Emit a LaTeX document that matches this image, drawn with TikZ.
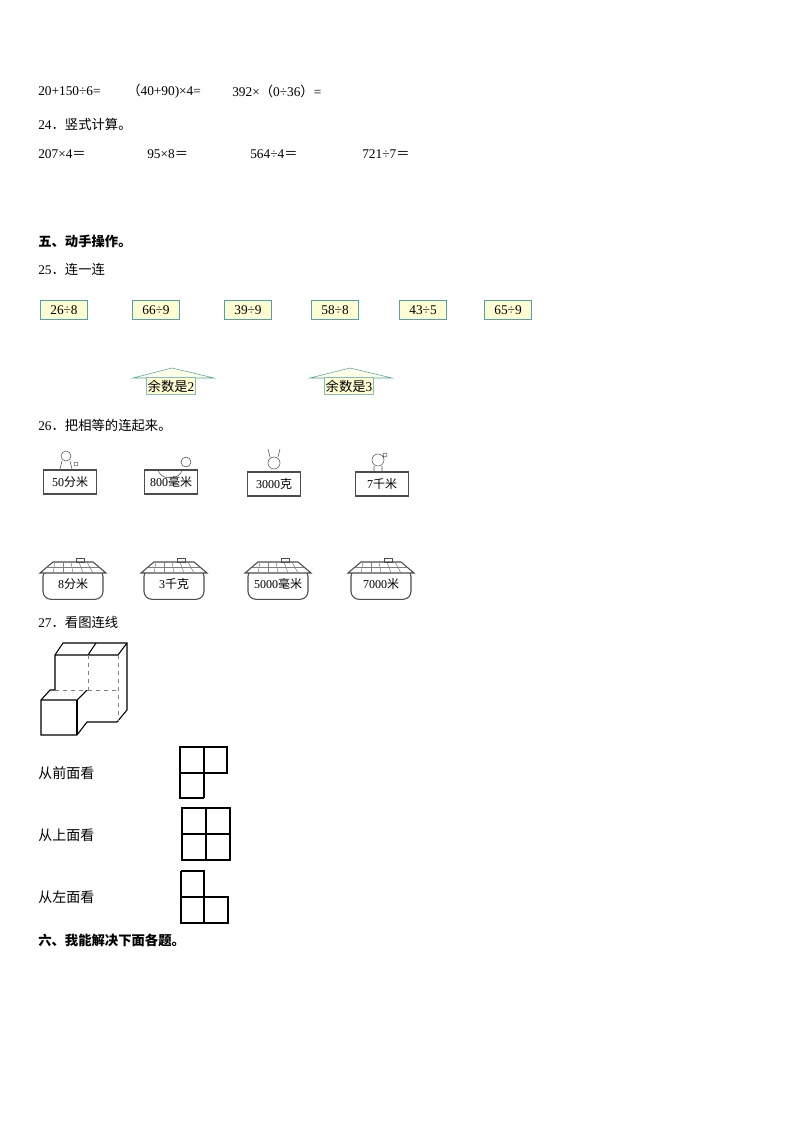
\documentclass[tikz,border=0pt]{standalone}
\usepackage{fontspec}
\setmainfont{Liberation Serif}
\newfontfamily\cjk{Noto Sans CJK SC}
\begin{document}
\begin{tikzpicture}[x=0.75pt,y=-0.75pt,
 txt/.style={anchor=west,inner sep=0,font=\fontsize{10}{12}\selectfont},
 hd/.style={anchor=west,inner sep=0,font=\fontsize{10}{12}\selectfont\cjk\bfseries},
 qbox/.style={draw=teal!70,fill=yellow!18,minimum width=35pt,minimum height=14pt,inner sep=1,font=\fontsize{10}{12}\selectfont},
 rbox/.style={draw=teal!50,fill=yellow!18,minimum width=37pt,minimum height=13pt,inner sep=1,font=\fontsize{10}{12}\selectfont},
 wbox/.style={draw=black!70,thick,minimum width=40pt,minimum height=18pt,inner sep=1,font=\fontsize{9}{11}\selectfont},
 pot/.style={draw=black!70,thick,rounded corners=6pt,minimum width=45pt,minimum height=23pt,inner sep=1,font=\fontsize{9}{11}\selectfont},
 fig/.style={line width=1.4pt}]
\useasboundingbox (0,0) rectangle (794,1123);
\node[txt] (l1a) at (38,91) {20+150÷6=};
\node[txt] (l1b) at (127,91) {{\cjk （}40+90)×4=};
\node[txt] (l1c) at (232,91) {392×{\cjk （}0÷36{\cjk ）}=};
\node[txt] (q24) at (38,124) {24{\cjk ．竖式计算。}};
\node[txt] (c1) at (38,154) {207×4{\cjk ＝}};
\node[txt] (c2) at (147,154) {95×8{\cjk ＝}};
\node[txt] (c3) at (250,154) {564÷4{\cjk ＝}};
\node[txt] (c4) at (362,154) {721÷7{\cjk ＝}};
\node[hd] (s5) at (38,241) {五、动手操作。};
\node[txt] (q25) at (38,269) {25{\cjk ．连一连}};
\foreach \n/\x/\t in {a/64/26÷8,b/156/66÷9,c/248/39÷9,d/335/58÷8,e/423/43÷5,f/508/65÷9}
  \node[qbox] (b\n) at (\x,310) {\t};
\draw[teal!70,fill=yellow!10] (133,378)--(172,368)--(214,378)--cycle;
\node[rbox] (r2) at (171,386) {{\cjk 余数是}2};
\draw[teal!70,fill=yellow!10] (310,378)--(350,368)--(392,378)--cycle;
\node[rbox] (r3) at (349,386) {{\cjk 余数是}3};
\node[txt] (q26) at (38,425) {26{\cjk ．把相等的连起来。}};
\node[wbox] (w1) at (70,482) {50{\cjk 分米}};
\node[wbox] (w2) at (171,482) {800{\cjk 毫米}};
\node[wbox] (w3) at (274,484) {3000{\cjk 克}};
\node[wbox] (w4) at (382,484) {7{\cjk 千米}};
\draw[black!70] (66,456) circle (5) (70,461)--(72,469) (62,461)--(60,469) (76,464) circle (2);
\draw[black!70] (158,469) arc (180:0:12 and 9) (186,462) circle (5);
\draw[black!70] (274,463) circle (6) (270,457)--(268,449) (278,457)--(280,449);
\draw[black!70] (378,460) circle (6) (385,455) circle (2) (374,466)--(374,471) (382,466)--(382,471);
\foreach \n/\x/\t in {1/73/8{\cjk 分米},2/174/3{\cjk 千克},3/278/5000{\cjk 毫米},4/381/7000{\cjk 米}}{
  \node[pot] (p\n) at (\x,584) {\t};
  \draw[black!70,thick,fill=white] (\x-33,573)--(\x-20,562)--(\x+20,562)--(\x+33,573)--cycle;
  \foreach \k in {-2,...,2} \draw[black!50] (\x+\k*8-2,562)--(\x+\k*10,573);
  \draw[black!50] (\x-26,567)--(\x+26,567);
  \draw[black!70] (\x+3,562) rectangle (\x+11,558);
}
\node[txt] (q27) at (38,622) {27{\cjk ．看图连线}};
\draw[thick] (55,690)--(55,655)--(63,643)--(127,643)--(127,710)--(117,722)--(87,722)--(77,735)--(41,735)--(41,700)--(50,690)--(55,690);
\draw[thick] (55,655)--(118,655)--(127,643) (88,655)--(96,643) (41,700)--(77,700)--(87,690);
\draw[thick] (77,700)--(77,735);
\draw[gray,dashed] (88,655)--(88,690)--(55,690) (88,690)--(118,690) (118,655)--(118,722);
\node[txt,font=\fontsize{10.5}{12}\selectfont\cjk] (v1) at (38,773) {从前面看};
\node[txt,font=\fontsize{10.5}{12}\selectfont\cjk] (v2) at (38,835) {从上面看};
\node[txt,font=\fontsize{10.5}{12}\selectfont\cjk] (v3) at (38,897) {从左面看};
\draw[fig] (180,747) rectangle (227,773) (204,747)--(204,798) (180,773)--(180,798)--(204,798);
\draw[fig] (182,808) rectangle (230,860) (206,808)--(206,860) (182,834)--(230,834);
\draw[fig] (181,871)--(204,871)--(204,923) (181,871)--(181,923)--(228,923)--(228,897)--(181,897);
\node[hd] (s6) at (38,940) {六、我能解决下面各题。};
\end{tikzpicture}
\end{document}
